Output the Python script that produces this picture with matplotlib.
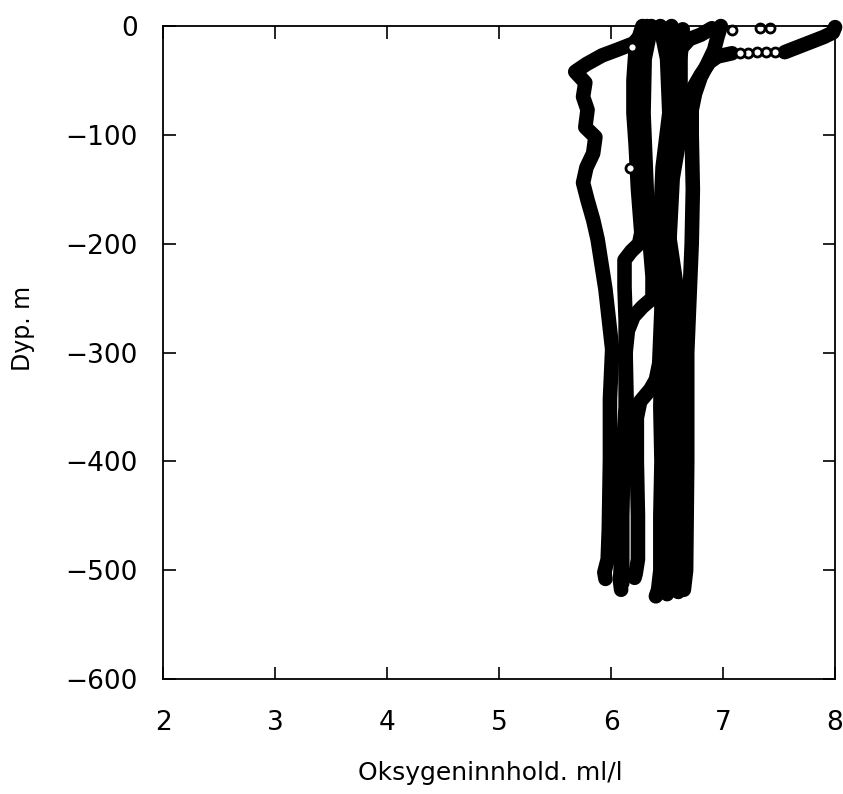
import matplotlib.pyplot as plt

# oxygen profiles (ml/l) vs depth (m)
l1_d = [0, -8, -16, -22, -27, -35, -42, -52, -65, -77, -93, -102, -117, -130, -144, -160, -178, -196, -242, -297, -343, -398, -462, -490, -502, -508]
l1_x = [6.32, 6.27, 6.2, 6.05, 5.92, 5.78, 5.68, 5.77, 5.75, 5.79, 5.77, 5.86, 5.84, 5.78, 5.75, 5.79, 5.84, 5.88, 5.95, 6.01, 5.99, 5.99, 5.98, 5.97, 5.94, 5.95]

l2_d = [0, -20, -50, -80, -110, -150, -190, -200, -207, -215, -240, -270, -300, -350, -400, -450, -490, -510, -518]
l2_x = [6.28, 6.22, 6.2, 6.2, 6.22, 6.24, 6.27, 6.25, 6.18, 6.12, 6.12, 6.13, 6.13, 6.13, 6.1, 6.09, 6.09, 6.08, 6.09]

l2b_d = [0, -30, -80, -130, -180, -230, -250, -258, -267, -280, -300, -350, -400, -450, -500, -512]
l2b_x = [6.36, 6.3, 6.29, 6.31, 6.33, 6.37, 6.37, 6.28, 6.2, 6.15, 6.13, 6.14, 6.11, 6.1, 6.1, 6.1]

l3_d = [0, -30, -80, -130, -200, -260, -310, -325, -334, -345, -360, -400, -450, -490, -503, -507]
l3_x = [6.44, 6.5, 6.52, 6.46, 6.43, 6.45, 6.43, 6.4, 6.35, 6.26, 6.23, 6.23, 6.24, 6.24, 6.22, 6.21]

c1_d = [0, -50, -100, -150, -200, -250, -300, -350, -400, -450, -500, -518, -524]
c1_x = [6.54, 6.56, 6.52, 6.47, 6.47, 6.46, 6.45, 6.44, 6.45, 6.44, 6.44, 6.42, 6.4]

c2_d = [-2, -8, -12, -20, -40, -100, -150, -180, -200, -250, -300, -400, -450, -500, -522]
c2_x = [6.9, 6.8, 6.7, 6.63, 6.6, 6.56, 6.52, 6.5, 6.5, 6.55, 6.56, 6.56, 6.55, 6.53, 6.5]

c3_d = [-3, -20, -40, -70, -110, -140, -200, -260, -330, -420, -500, -518]
c3_x = [6.64, 6.62, 6.62, 6.62, 6.6, 6.55, 6.52, 6.58, 6.6, 6.6, 6.6, 6.57]

c4_d = [0, -10, -22, -37, -47, -62, -77, -100, -150, -200, -250, -300, -400, -500, -518]
c4_x = [6.98, 6.95, 6.92, 6.85, 6.8, 6.75, 6.72, 6.72, 6.73, 6.72, 6.7, 6.68, 6.68, 6.67, 6.65]

# surface profile with high oxygen at the top
s1_d = [-1, -6, -10, -14, -18, -22, -24]
s1_x = [8.0, 7.98, 7.9, 7.8, 7.7, 7.6, 7.55]
s_pts_d = [-24, -24, -24, -24.5, -25]
s_pts_x = [7.46, 7.38, 7.3, 7.22, 7.15]
s2_d = [-25, -28, -33, -45, -70, -100, -130, -180, -250, -300, -400, -500, -520]
s2_x = [7.08, 6.95, 6.88, 6.8, 6.66, 6.62, 6.55, 6.5, 6.6, 6.63, 6.63, 6.62, 6.6]

# loose points
p_d = [-2, -2, -4, -19, -130]
p_x = [7.42, 7.33, 7.08, 6.19, 6.17]

fig = plt.figure(figsize=(8.43, 7.94), dpi=100)
ax = fig.add_axes([0.1934, 0.1448, 0.7972, 0.8224])

line_kw = dict(color='k', linewidth=10.5, solid_capstyle='round', solid_joinstyle='round', clip_on=False)
for xs, ds in [(l1_x, l1_d), (l2_x, l2_d), (l2b_x, l2b_d), (l3_x, l3_d), (c1_x, c1_d),
               (c2_x, c2_d), (c3_x, c3_d), (c4_x, c4_d), (s1_x, s1_d), (s2_x, s2_d)]:
    ax.plot(xs, ds, **line_kw)
ax.plot(s_pts_x, s_pts_d, 'o', mfc='white', mec='k', ms=6.5, mew=2, clip_on=False)
ax.plot(p_x, p_d, 'o', mfc='white', mec='k', ms=6.5, mew=2, clip_on=False)

ax.set_xlim(2, 8)
ax.set_ylim(-600, 0)
ax.set_xticks([2, 3, 4, 5, 6, 7, 8])
ax.set_yticks([-600, -500, -400, -300, -200, -100, 0])
ax.tick_params(direction='in', length=9, width=1.2, top=True, right=True,
               labelsize=19, pad=12)
ax.tick_params(axis='x', pad=22)
ax.tick_params(axis='y', pad=18)
for sp in ax.spines.values():
    sp.set_linewidth(1.3)

ax.set_xlabel('Oksygeninnhold. ml/l', fontsize=18)
ax.set_ylabel('Dyp. m', fontsize=17)
ax.xaxis.set_label_coords(0.487, -0.125)
ax.yaxis.set_label_coords(-0.19, 0.537)

plt.savefig('out.png', dpi=100)
